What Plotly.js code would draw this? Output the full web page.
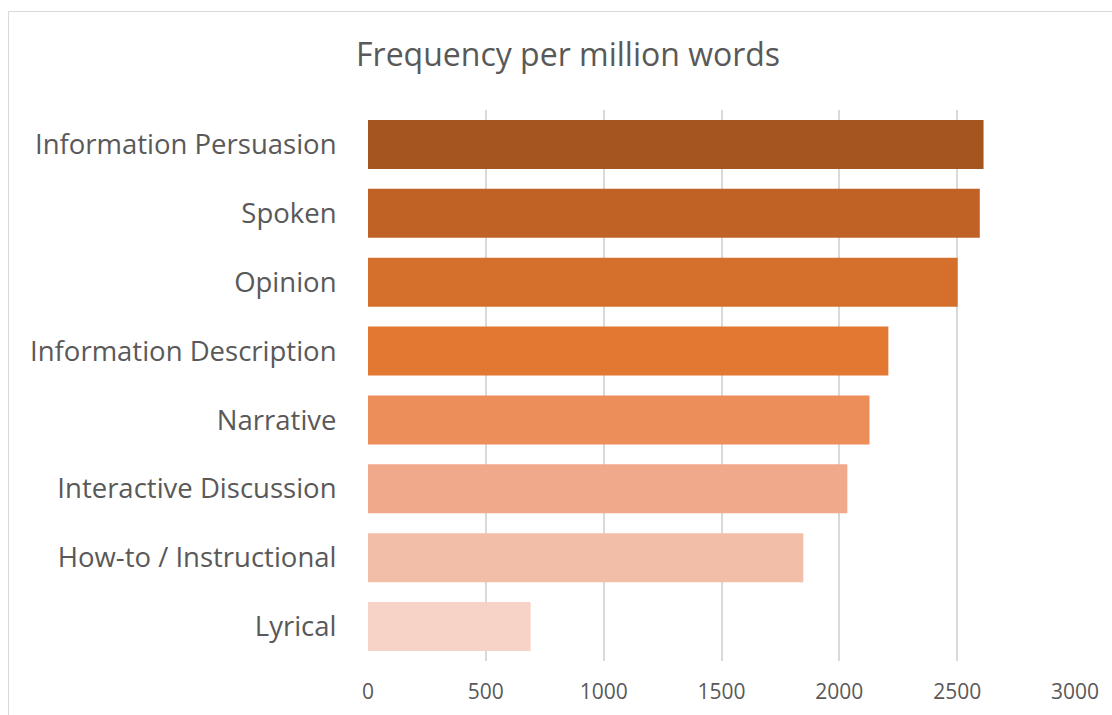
<!DOCTYPE html>
<html>
<head>
<meta charset="utf-8">
<script src="https://cdn.plot.ly/plotly-3.0.1.min.js"></script>
<style>html,body{margin:0;padding:0;background:#fff;}#chart{width:1112px;height:715px;}</style>
</head>
<body>
<div id="chart"></div>
<script>
const categories = ["Information Persuasion","Spoken","Opinion","Information Description","Narrative","Interactive Discussion","How-to / Instructional","Lyrical"];
const values = [2612, 2596, 2502, 2208, 2128, 2034, 1847, 690];
const colors = ["#A5561F","#C06226","#D46F2C","#E37832","#EC8E5A","#F0A98A","#F3BEA8","#F7D3C7"];
const xTicks = [0,500,1000,1500,2000,2500,3000];

const font = "Open Sans, Noto Sans, sans-serif";
const textColor = "#595959";

Plotly.newPlot("chart", [{
  type: "bar",
  orientation: "h",
  y: categories,
  x: values,
  marker: {color: colors},
  width: 0.71,
  hoverinfo: "x+y"
}], {
  width: 1112, height: 715,
  margin: {l: 368, r: 37, t: 110, b: 54},
  paper_bgcolor: "#fff", plot_bgcolor: "#fff",
  showlegend: false,
  font: {family: font, color: textColor},
  title: {text: "Frequency per million words", font: {size: 32, color: textColor, family: font},
          x: 0.283, xref: "paper", xanchor: "center", y: 0.923, yref: "container", yanchor: "middle"},
  xaxis: {range: [0, 3000], tickvals: xTicks, ticktext: xTicks.map(String),
          showgrid: true, gridcolor: "#D9D9D9", gridwidth: 2, zeroline: false, showline: false,
          ticks: "outside", ticklen: 12, tickcolor: "rgba(0,0,0,0)",
          tickfont: {size: 21, color: textColor, family: font}, fixedrange: true},
  yaxis: {categoryorder: "array", categoryarray: categories, autorange: "reversed",
          showgrid: false, zeroline: false, showline: false,
          ticks: "outside", ticklen: 25, tickcolor: "rgba(0,0,0,0)",
          tickfont: {size: 27.5, color: textColor, family: font}, fixedrange: true},
  shapes: [{type: "rect", xref: "paper", yref: "paper",
            x0: (8.5-368)/707, x1: (1130-368)/707, y0: (661-730)/551, y1: (661-11.5)/551,
            line: {color: "#D9D9D9", width: 1}, fillcolor: "rgba(0,0,0,0)", layer: "below"}]
}, {displayModeBar: false, staticPlot: true});
</script>
</body>
</html>
